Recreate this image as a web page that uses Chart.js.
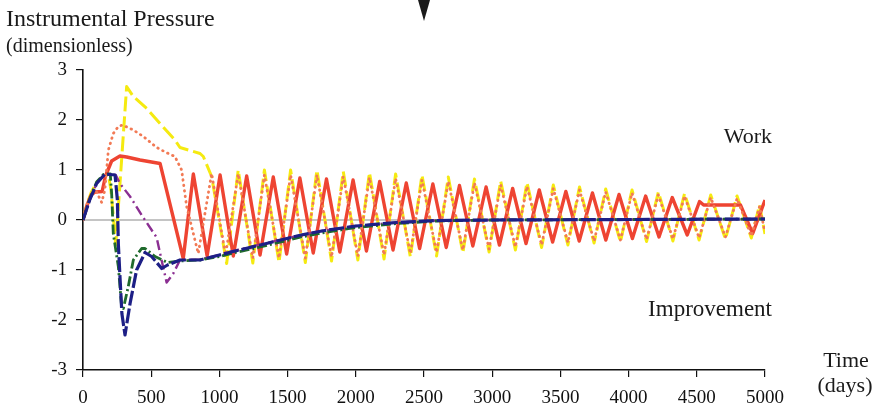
<!DOCTYPE html>
<html>
<head>
<meta charset="utf-8">
<script src="https://cdn.jsdelivr.net/npm/chart.js@4.4.1/dist/chart.umd.min.js"></script>
<style>
  html, body { margin:0; padding:0; background:#fff; }
  #wrap { width:878px; height:408px; }
</style>
</head>
<body>
<div id="wrap"><canvas id="chart" width="878" height="408"></canvas></div>
<script>
/* Instrumental pressure vs time, six simulated runs */

const xTicks = [0, 500, 1000, 1500, 2000, 2500, 3000, 3500, 4000, 4500, 5000];
const yTicks = [-3, -2, -1, 0, 1, 2, 3];

// red solid
const redDays = [0, 30, 60, 90, 140, 165, 210, 271, 320, 418, 565, 735, 809, 910, 1005, 1102, 1200, 1298, 1395, 1493,
  1590, 1688, 1785, 1883, 1980, 2078, 2175, 2273, 2370, 2468, 2565, 2663, 2760, 2858, 2955, 3053, 3150, 3248, 3345,
  3443, 3540, 3638, 3735, 3833, 3930, 4028, 4125, 4223, 4320, 4430, 4520, 4550, 4820, 4910, 5000];
const redVals = [0, 0.3, 0.5, 0.56, 0.57, 0.88, 1.18, 1.28, 1.26, 1.2, 1.13, -0.77, 0.92, -0.72, 0.9, -0.72, 0.88, -0.7, 0.86, -0.68,
  0.84, -0.66, 0.82, -0.64, 0.8, -0.62, 0.77, -0.6, 0.74, -0.57, 0.72, -0.55, 0.69, -0.52, 0.66, -0.5, 0.63, -0.47, 0.6,
  -0.44, 0.57, -0.42, 0.54, -0.4, 0.51, -0.37, 0.48, -0.34, 0.45, -0.3, 0.37, 0.3, 0.3, -0.27, 0.4];

// yellow dashed
const yellowDays = [0, 30, 60, 100, 150, 185, 205, 240, 320, 369, 467, 565, 674, 711, 858, 882, 943, 1053, 1138,
  1245, 1330, 1437, 1522, 1630, 1715, 1822, 1908, 2015, 2100, 2207, 2292, 2400, 2485, 2592, 2678, 2785, 2870,
  2977, 3062, 3170, 3255, 3362, 3448, 3555, 3640, 3747, 3832, 3940, 4025, 4132, 4218, 4325, 4410, 4517, 4602,
  4710, 4795, 4900, 4960, 5000];
const yellowVals = [0, 0.32, 0.55, 0.75, 0.88, 0.92, 0.6, -0.5, 2.67, 2.47, 2.23, 1.93, 1.6, 1.45, 1.33, 1.27, 0.87, -0.87, 1.0,
  -0.86, 1.0, -0.85, 1.0, -0.85, 1.0, -0.82, 0.97, -0.8, 0.95, -0.78, 0.92, -0.74, 0.9, -0.72, 0.86, -0.66, 0.82,
  -0.64, 0.78, -0.6, 0.75, -0.55, 0.7, -0.5, 0.66, -0.46, 0.62, -0.44, 0.6, -0.43, 0.56, -0.42, 0.53, -0.4, 0.5,
  -0.38, 0.48, -0.36, 0.3, -0.28];

// orange dotted
const orangeDays = [0, 30, 60, 100, 137, 160, 186, 222, 259, 290, 369, 442, 540, 610, 674, 723, 760, 845, 943, 1045, 1138,
  1245, 1330, 1437, 1522, 1630, 1715, 1822, 1908, 2015, 2100, 2207, 2292, 2400, 2485, 2592, 2678, 2785, 2870,
  2977, 3062, 3170, 3255, 3362, 3448, 3555, 3640, 3747, 3832, 3940, 4025, 4132, 4218, 4325, 4410, 4517, 4602,
  4710, 4795, 4900, 4960, 5000];
const orangeVals = [0, 0.32, 0.52, 0.56, 0.35, 0.6, 1.4, 1.73, 1.87, 1.9, 1.8, 1.67, 1.45, 1.35, 1.27, 1.0, 0.27, -0.67, 0.93, -0.7, 0.92,
  -0.76, 0.9, -0.76, 0.9, -0.76, 0.9, -0.74, 0.87, -0.72, 0.85, -0.7, 0.83, -0.67, 0.8, -0.65, 0.77, -0.6, 0.74,
  -0.58, 0.7, -0.54, 0.67, -0.5, 0.63, -0.45, 0.6, -0.42, 0.56, -0.4, 0.54, -0.39, 0.5, -0.38, 0.48, -0.36, 0.45,
  -0.34, 0.43, -0.32, 0.27, -0.25];

// purple dash-dot
const purpleDays = [0, 49, 100, 161, 240, 271, 345, 430, 503, 540, 580, 613, 662, 711, 858, 1000, 1100, 1300, 1600, 1750,
  2000, 2300, 2600, 3000, 4000, 5000];
const purpleVals = [0, 0.4, 0.73, 0.92, 0.9, 0.73, 0.47, 0.1, -0.2, -0.35, -0.85, -1.25, -1.07, -0.8, -0.79, -0.7, -0.62, -0.49, -0.3, -0.22,
  -0.12, -0.05, -0.01, 0, 0.01, 0.02];

// navy long dash
const blueDays = [0, 49, 100, 161, 235, 252, 259, 271, 285, 308, 345, 393, 455, 503, 565, 577, 620, 711, 858, 1000, 1100,
  1300, 1600, 1750, 2000, 2300, 2600, 3000, 4000, 5000];
const blueVals = [0, 0.4, 0.73, 0.92, 0.9, 0.4, -0.47, -1.13, -1.87, -2.3, -1.67, -1.0, -0.65, -0.73, -0.93, -0.97, -0.9, -0.8, -0.8, -0.7, -0.63,
  -0.5, -0.3, -0.22, -0.12, -0.05, -0.01, 0, 0.01, 0.02];

// green dash-dot
const greenDays = [0, 49, 100, 150, 200, 210, 222, 259, 283, 296, 332, 369, 430, 455, 528, 620, 711, 858, 1000, 1100,
  1300, 1600, 1750, 2000, 2300, 2600, 3000, 5000];
const greenVals = [0, 0.42, 0.76, 0.91, 0.92, 0.53, -0.27, -0.93, -1.73, -1.77, -1.33, -0.8, -0.57, -0.57, -0.73, -0.85, -0.82, -0.8, -0.73, -0.66,
  -0.54, -0.34, -0.26, -0.15, -0.07, -0.02, 0, 0.02];

const zeroDays = [0, 5000];
const zeroVals = [0, 0];

const pts = (xs, ys) => xs.map((x, i) => ({x, y: ys[i]}));

function series(label, xs, ys, color, width, dash, extra){
  return Object.assign({
    label, data: pts(xs, ys), borderColor: color, borderWidth: width, borderDash: dash,
    pointRadius: 0, fill: false, tension: 0, borderJoinStyle: 'round'
  }, extra || {});
}

const datasets = [
  series('blue', blueDays, blueVals, '#1d1f86', 3.2, [15, 3]),
  series('green', greenDays, greenVals, '#1f6a2c', 2.8, [10, 3, 2, 3]),
  series('purple', purpleDays, purpleVals, '#8b2f92', 2.4, [10, 4, 2, 4]),
  series('orange', orangeDays, orangeVals, '#f27a55', 2.8, [0.5, 5], {borderCapStyle: 'round'}),
  series('red', redDays, redVals, '#ee4432', 3.4),
  series('yellow', yellowDays, yellowVals, '#f5ea10', 3, [15, 5]),
  series('zero', zeroDays, zeroVals, '#8a8a8a', 1.2)
];

// free text and the arrow stub at the top
const labelsPlugin = {
  id: 'labels',
  afterDraw(chart){
    const c = chart.ctx;
    c.save();
    c.fillStyle = '#1a1a1a';
    c.textBaseline = 'alphabetic';
    c.font = '24px "Liberation Serif"';
    c.textAlign = 'left';
    c.fillText('Instrumental Pressure', 6, 26);
    c.font = '20px "Liberation Serif"';
    c.fillText('(dimensionless)', 6, 52);
    c.textAlign = 'right';
    c.font = '22px "Liberation Serif"';
    c.fillText('Work', 772, 143);
    c.font = '23px "Liberation Serif"';
    c.fillText('Improvement', 772, 316);
    c.textAlign = 'center';
    c.font = '22px "Liberation Serif"';
    c.fillText('Time', 846, 367);
    c.fillText('(days)', 845, 392);
    c.beginPath();
    c.moveTo(418, 0); c.lineTo(430, 0); c.lineTo(424, 21); c.closePath();
    c.fill();
    c.restore();
  }
};

const tickFont = {family: '"Liberation Serif"', size: 19};

new Chart(document.getElementById('chart'), {
  type: 'line',
  data: {datasets},
  plugins: [labelsPlugin],
  options: {
    responsive: false,
    animation: false,
    devicePixelRatio: 1,
    layout: {padding: {top: 70, right: 113, left: 0, bottom: 0}},
    plugins: {legend: {display: false}, tooltip: {enabled: false}},
    scales: {
      x: {
        type: 'linear', min: 0, max: 5000,
        afterBuildTicks: s => { s.ticks = xTicks.map(v => ({value: v})); },
        afterFit: s => { s.height = 38; },
        grid: {drawOnChartArea: false, drawTicks: true, tickLength: 7, color: '#111', lineWidth: 1.2},
        border: {display: true, color: '#111', width: 1.6},
        ticks: {font: tickFont, color: '#111', padding: 10, maxRotation: 0, autoSkip: false, callback: v => String(v)}
      },
      y: {
        type: 'linear', min: -3, max: 3,
        afterBuildTicks: s => { s.ticks = yTicks.map(v => ({value: v})); },
        afterFit: s => { s.width = 83; },
        grid: {drawOnChartArea: false, drawTicks: true, tickLength: 7, color: '#111', lineWidth: 1.2},
        border: {display: true, color: '#111', width: 1.6},
        ticks: {font: tickFont, color: '#111', padding: 9, autoSkip: false, callback: v => String(v)}
      }
    }
  }
});
</script>
</body>
</html>
